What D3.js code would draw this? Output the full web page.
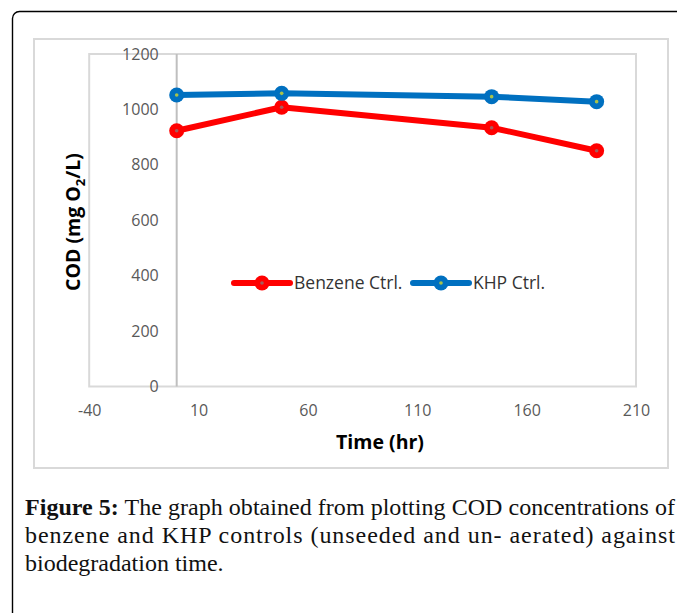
<!DOCTYPE html>
<html>
<head>
<meta charset="utf-8">
<script src="https://cdn.jsdelivr.net/npm/d3@7"></script>
<style>
  html, body { margin: 0; padding: 0; background: #fff; }
  svg { display: block; }
</style>
</head>
<body>
<svg id="fig" width="677" height="613"></svg>
<script>
// Sampling times (hours) and COD readings (mg O2/L) for the two controls
const timeHours = [0, 48, 144, 192];
const benzeneCOD = [923, 1008, 934, 851];
const khpCOD = [1052, 1058, 1046, 1028];

const xTicks = [-40, 10, 60, 110, 160, 210];
const yTicks = [0, 200, 400, 600, 800, 1000, 1200];

const seriesNames = ["Benzene Ctrl.", "KHP Ctrl."];
const seriesColors = ["#ff0000", "#0070c0"];
const centerDotColors = ["#a65b5b", "#a8c24a"];

const captionLines = [
  "The graph obtained from plotting COD concentrations of",
  "benzene and KHP controls (unseeded and un- aerated) against",
  "biodegradation time."
];

const svg = d3.select("#fig");

// Page frame with rounded corner (runs off the right and bottom edges)
svg.append("rect")
  .attr("x", 12.5).attr("y", 11.5)
  .attr("width", 720).attr("height", 700)
  .attr("rx", 7)
  .attr("fill", "#fff")
  .attr("stroke", "#000").attr("stroke-width", 1.4);

// Chart area border
svg.append("rect")
  .attr("x", 34).attr("y", 39)
  .attr("width", 634).attr("height", 429)
  .attr("fill", "#fff")
  .attr("stroke", "#d9d9d9").attr("stroke-width", 2);

const plot = { left: 89.2, right: 636, top: 54, bottom: 386.5 };

const x = d3.scaleLinear().domain([-40, 210]).range([plot.left, plot.right]);
const y = d3.scaleLinear().domain([0, 1200]).range([plot.bottom, plot.top]);

// Plot area border
svg.append("rect")
  .attr("x", plot.left).attr("y", plot.top)
  .attr("width", plot.right - plot.left).attr("height", plot.bottom - plot.top)
  .attr("fill", "none")
  .attr("stroke", "#d9d9d9").attr("stroke-width", 2);

// Vertical axis crosses at t = 0
svg.append("line")
  .attr("x1", x(0)).attr("x2", x(0))
  .attr("y1", plot.top).attr("y2", plot.bottom)
  .attr("stroke", "#bfbfbf").attr("stroke-width", 2);

const tickFont = "'Open Sans', sans-serif";
const plain = d => String(d).replace("\u2212", "-");

const yAxis = svg.append("g")
  .attr("transform", `translate(${x(0)},0)`)
  .call(d3.axisLeft(y).tickValues(yTicks).tickFormat(plain).tickSize(0).tickPadding(18));
yAxis.select(".domain").remove();
yAxis.selectAll("text")
  .attr("fill", "#595959")
  .style("font-family", tickFont).style("font-size", "16px");

const xAxis = svg.append("g")
  .attr("transform", `translate(0,${plot.bottom})`)
  .call(d3.axisBottom(x).tickValues(xTicks).tickFormat(plain).tickSize(0).tickPadding(18));
xAxis.select(".domain").remove();
xAxis.selectAll("text")
  .attr("fill", "#595959")
  .style("font-family", tickFont).style("font-size", "16px");

// Axis titles
svg.append("text")
  .attr("x", 380).attr("y", 449)
  .attr("text-anchor", "middle")
  .style("font-family", tickFont).style("font-size", "19.5px").style("font-weight", "bold")
  .attr("fill", "#000")
  .text("Time (hr)");

const yTitle = svg.append("text")
  .attr("transform", "translate(80,222) rotate(-90)")
  .attr("text-anchor", "middle")
  .style("font-family", tickFont).style("font-size", "19.5px").style("font-weight", "bold")
  .attr("fill", "#000");
yTitle.append("tspan").text("COD (mg O");
yTitle.append("tspan").attr("dy", 5).style("font-size", "13px").text("2");
yTitle.append("tspan").attr("dy", -5).text("/L)");

// Series lines and markers
const series = [benzeneCOD, khpCOD];
const line = d3.line().x(d => x(d[0])).y(d => y(d[1]));

series.forEach((vals, i) => {
  const pts = timeHours.map((t, j) => [t, vals[j]]);
  const g = svg.append("g");
  g.append("path")
    .attr("d", line(pts))
    .attr("fill", "none")
    .attr("stroke", seriesColors[i])
    .attr("stroke-width", 6)
    .attr("stroke-linejoin", "round");
  g.selectAll("circle.m").data(pts).join("circle")
    .attr("class", "m")
    .attr("cx", d => x(d[0])).attr("cy", d => y(d[1]))
    .attr("r", 7.5)
    .attr("fill", seriesColors[i]);
  g.selectAll("circle.c").data(pts).join("circle")
    .attr("class", "c")
    .attr("cx", d => x(d[0])).attr("cy", d => y(d[1]))
    .attr("r", 1.8)
    .attr("fill", centerDotColors[i]);
});

// Legend
const legendItems = [
  { x0: 234, x1: 290, tx: 294 },
  { x0: 413, x1: 469, tx: 473 }
];
const legendY = 283;
legendItems.forEach((it, i) => {
  const g = svg.append("g");
  g.append("line")
    .attr("x1", it.x0).attr("x2", it.x1)
    .attr("y1", legendY).attr("y2", legendY)
    .attr("stroke", seriesColors[i]).attr("stroke-width", 6)
    .attr("stroke-linecap", "round");
  g.append("circle")
    .attr("cx", (it.x0 + it.x1) / 2).attr("cy", legendY).attr("r", 7.5)
    .attr("fill", seriesColors[i]);
  g.append("circle")
    .attr("cx", (it.x0 + it.x1) / 2).attr("cy", legendY).attr("r", 1.8)
    .attr("fill", centerDotColors[i]);
  g.append("text")
    .attr("x", it.tx).attr("y", legendY)
    .attr("dy", "0.35em")
    .style("font-family", tickFont).style("font-size", "17.5px")
    .attr("fill", "#333")
    .text(seriesNames[i]);
});

// Caption, justified on the first two lines
const capFont = "'Liberation Serif', 'DejaVu Serif', serif";
const capSize = "24px";
function fitLine(t, target) {
  const natural = t.node().getComputedTextLength();
  t.attr("textLength", target)
   .attr("lengthAdjust", natural > target ? "spacingAndGlyphs" : "spacing");
}
const cap1 = svg.append("text")
  .attr("x", 25).attr("y", 515)
  .style("font-family", capFont).style("font-size", capSize)
  .attr("fill", "#111");
cap1.append("tspan").style("font-weight", "bold").text("Figure 5:");
cap1.append("tspan").text(" " + captionLines[0]);
fitLine(cap1, 650);

const cap2 = svg.append("text")
  .attr("x", 25).attr("y", 543)
  .style("font-family", capFont).style("font-size", capSize)
  .attr("fill", "#111")
  .text(captionLines[1]);
fitLine(cap2, 650);

svg.append("text")
  .attr("x", 25).attr("y", 571)
  .style("font-family", capFont).style("font-size", capSize)
  .attr("fill", "#111")
  .text(captionLines[2]);
</script>
</body>
</html>
